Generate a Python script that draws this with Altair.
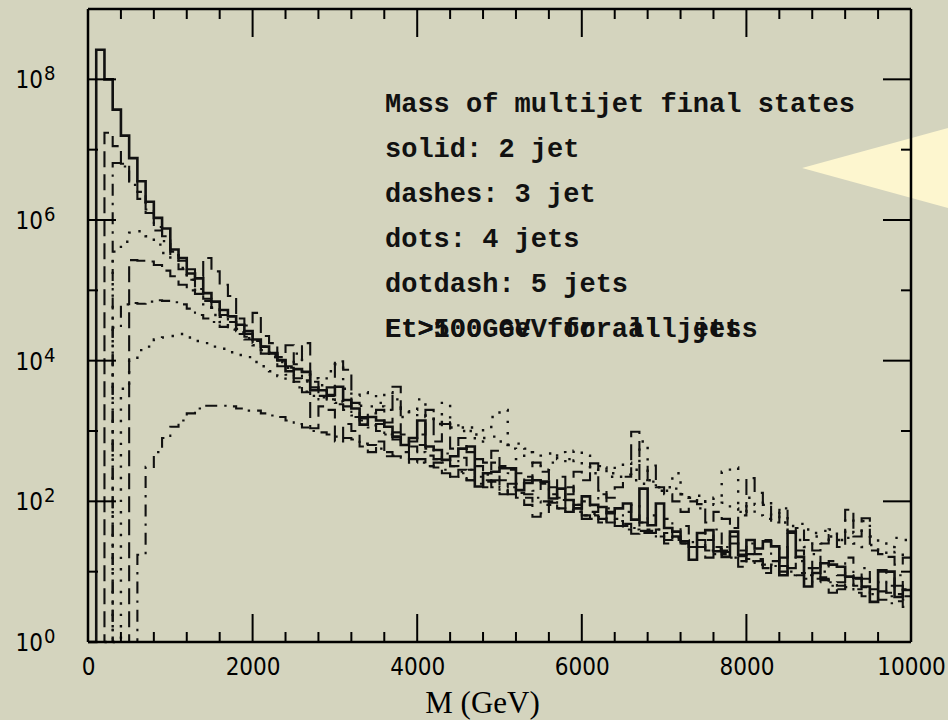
import altair as alt
import pandas as pd

# ---------------- data (log10 of entries per 100 GeV bin) -------------
bin_width = 100
n_bins = 100

log_2jet_solid = [
    0, 8.42, 8.00, 7.57, 7.20,
    6.88, 6.55, 6.26, 6.03, 5.88,
    5.58, 5.46, 5.24, 5.17, 4.96,
    4.84, 4.72, 4.63, 4.51, 4.42,
    4.30, 4.20, 4.11, 4.01, 3.85,
    3.88, 3.84, 3.58, 3.58, 3.51,
    3.63, 3.44, 3.32, 3.09, 3.20,
    3.15, 3.06, 2.92, 2.80, 2.90,
    3.15, 2.78, 2.73, 2.59, 2.64,
    2.75, 2.78, 2.21, 2.40, 2.42,
    2.47, 2.47, 2.16, 2.26, 2.30,
    2.28, 2.04, 2.18, 2.02, 1.90,
    2.07, 1.95, 1.92, 1.83, 1.90,
    1.97, 1.74, 2.18, 1.66, 1.97,
    1.62, 1.57, 1.43, 1.17, 1.55,
    1.59, 1.29, 1.21, 1.57, 1.24,
    1.45, 1.33, 1.43, 1.36, 0.95,
    1.57, 1.21, 0.79, 0.98, 1.12,
    1.10, 1.07, 0.93, 0.91, 0.79,
    0.57, 1.02, 1.00, 0.64, 0.74]

log_3jet_dashes = [
    0, 0, 7.24, 7.05, 6.80,
    6.55, 6.40, 6.15, 5.90, 5.77,
    5.55, 5.42, 5.30, 5.20, 5.46,
    5.27, 5.08, 4.92, 4.60, 4.50,
    4.68, 4.35, 4.25, 4.05, 4.22,
    3.95, 4.25, 3.70, 3.55, 3.62,
    3.99, 3.87, 3.40, 3.20, 3.25,
    3.30, 3.12, 3.63, 2.95, 2.85,
    2.95, 3.30, 2.85, 3.10, 2.75,
    2.90, 2.70, 2.60, 2.55, 2.72,
    2.50, 2.45, 2.40, 2.30, 2.55,
    2.42, 2.20, 2.35, 2.10, 2.42,
    2.30, 2.54, 2.15, 2.05, 2.20,
    2.35, 2.99, 2.30, 2.51, 2.20,
    2.10, 2.00, 1.85, 2.00, 1.96,
    1.70, 1.85, 1.75, 1.62, 1.80,
    2.33, 2.12, 1.95, 1.70, 1.88,
    1.55, 1.62, 1.45, 1.30, 1.40,
    1.52, 1.35, 1.88, 1.50, 1.76,
    1.30, 1.25, 1.21, 1.10, 1.20]

log_5jet_dotdash_a = [
    0, 0, 0, 6.81, 6.76,
    6.50, 6.30, 6.10, 5.85, 5.70,
    5.50, 5.30, 5.15, 5.02, 4.88,
    4.75, 4.62, 4.55, 4.42, 4.30,
    4.25, 4.10, 4.05, 3.92, 3.80,
    3.75, 3.70, 3.62, 3.45, 3.50,
    3.40, 3.35, 3.22, 3.18, 3.05,
    3.10, 2.95, 2.98, 2.85, 2.70,
    2.80, 2.75, 2.60, 2.68, 2.50,
    2.62, 2.45, 2.50, 2.38, 2.55,
    2.30, 2.40, 2.25, 2.35, 2.15,
    2.25, 2.10, 2.05, 2.20, 1.95,
    2.00, 1.85, 2.10, 1.90, 1.75,
    1.85, 1.95, 1.70, 1.80, 1.60,
    1.75, 1.50, 1.65, 1.40, 1.55,
    1.45, 1.60, 1.35, 1.50, 1.30,
    1.40, 1.25, 1.45, 1.15, 1.35,
    1.20, 1.30, 1.05, 1.25, 1.00,
    1.15, 0.95, 1.20, 0.90, 1.05,
    0.85, 1.00, 0.80, 0.95, 0.75]

log_4jet_dots_a = [
    0, 0, 0, 5.55, 5.69,
    5.82, 5.84, 5.77, 5.65, 5.53,
    5.45, 5.32, 5.15, 4.98, 4.80,
    4.65, 4.55, 4.45, 4.40, 4.32,
    4.22, 4.15, 4.05, 3.98, 3.90,
    4.10, 3.80, 3.75, 3.65, 3.85,
    3.95, 3.60, 3.50, 3.55, 3.52,
    3.40, 3.55, 3.45, 3.20, 3.30,
    3.45, 3.20, 3.10, 3.40, 3.05,
    3.05, 3.00, 2.85, 3.03, 3.20,
    3.30, 2.75, 2.60, 2.70, 2.55,
    2.45, 2.55, 2.70, 2.60, 2.72,
    2.65, 2.40, 2.50, 2.35, 2.50,
    2.55, 2.45, 2.85, 2.30, 2.15,
    2.20, 2.40, 2.10, 2.05, 1.90,
    2.00, 2.05, 2.42, 2.48, 1.85,
    2.05, 1.95, 2.00, 1.80, 1.90,
    1.55, 1.45, 1.35, 1.50, 1.40,
    1.60, 1.45, 1.75, 1.55, 1.72,
    1.50, 1.40, 1.35, 1.48, 1.45]

log_3jet_dashes_b = [
    0, 0, 0, 0, 0,
    5.43, 5.42, 5.41, 5.36, 5.28,
    5.20, 5.08, 5.00, 4.95, 4.85,
    4.75, 4.65, 4.55, 4.45, 4.38,
    4.28, 4.20, 4.10, 4.00, 3.92,
    3.70, 3.55, 3.04, 3.35, 3.30,
    2.85, 3.10, 3.00, 2.78, 2.70,
    2.85, 2.64, 2.64, 2.70, 2.55,
    2.60, 2.50, 2.55, 2.40, 2.35,
    2.45, 2.30, 2.35, 2.20, 2.30,
    2.10, 2.20, 2.05, 1.95, 1.78,
    1.83, 2.00, 1.90, 1.85, 1.95,
    1.75, 1.80, 1.70, 1.85, 1.65,
    1.60, 1.54, 1.70, 1.55, 1.60,
    1.40, 1.50, 1.45, 1.35, 1.45,
    1.20, 1.35, 1.30, 1.40, 1.07,
    1.25, 1.15, 0.98, 1.10, 1.20,
    1.05, 1.15, 0.95, 1.05, 0.90,
    0.70, 0.85, 0.95, 0.80, 0.90,
    0.75, 0.85, 0.70, 0.80, 0.65]

log_5jet_dotdash_b = [
    0, 0, 0, 4.47, 4.80,
    4.82, 4.81, 4.84, 4.86, 4.85,
    4.83, 4.80, 4.74, 4.65, 4.60,
    4.55, 4.48, 4.44, 4.38, 4.34,
    4.27, 4.15, 4.08, 4.00, 3.90,
    3.80, 3.72, 3.62, 3.50, 3.45,
    3.38, 3.30, 3.20, 3.15, 3.08,
    3.00, 2.95, 2.88, 2.80, 2.78,
    2.70, 2.65, 2.60, 2.55, 2.50,
    2.42, 2.45, 2.35, 2.30, 2.28,
    2.20, 2.25, 2.12, 2.10, 2.05,
    2.00, 1.95, 2.02, 1.88, 1.85,
    1.80, 1.82, 1.75, 1.70, 1.72,
    1.65, 1.62, 1.58, 1.60, 1.50,
    1.55, 1.45, 1.40, 1.42, 1.35,
    1.30, 1.32, 1.25, 1.20, 1.22,
    1.15, 1.18, 1.10, 1.05, 1.08,
    1.00, 0.95, 0.98, 0.90, 0.92,
    0.85, 0.80, 0.82, 0.75, 0.78,
    0.70, 0.72, 0.65, 0.68, 0.60]

log_4jet_dots_b = [
    0, 0, 0, 0, 3.60,
    4.00, 4.15, 4.20, 4.30, 4.33,
    4.35, 4.38, 4.33, 4.28, 4.25,
    4.20, 4.17, 4.12, 4.08, 4.05,
    3.98, 3.92, 3.85, 3.78, 3.70,
    3.62, 3.56, 3.50, 3.48, 3.45,
    3.42, 3.40, 3.38, 3.36, 3.35,
    3.35, 3.30, 3.32, 3.28, 3.25,
    3.20, 3.22, 3.15, 3.10, 3.12,
    3.00, 3.05, 2.95, 2.90, 2.92,
    2.85, 2.80, 2.82, 2.75, 2.70,
    2.65, 2.68, 2.60, 2.55, 2.58,
    2.50, 2.45, 2.48, 2.40, 2.35,
    2.38, 2.30, 2.25, 2.28, 2.20,
    2.15, 2.18, 2.10, 2.05, 2.08,
    2.00, 1.95, 1.98, 1.90, 1.85,
    1.88, 1.80, 1.75, 1.78, 1.70,
    1.65, 1.68, 1.60, 1.55, 1.58,
    1.50, 1.45, 1.48, 1.40, 1.35,
    1.38, 1.30, 1.25, 1.28, 1.20]

log_5jet_dotdash_c = [
    0, 0, 0, 0, 0,
    0, 1.24, 2.49, 2.70, 2.90,
    3.06, 3.15, 3.25, 3.32, 3.36,
    3.36, 3.36, 3.35, 3.32, 3.29,
    3.29, 3.25, 3.22, 3.20, 3.15,
    3.10, 3.05, 3.00, 2.98, 2.95,
    2.92, 2.90, 2.88, 2.82, 2.80,
    2.75, 2.70, 2.65, 2.62, 2.60,
    2.55, 2.50, 2.48, 2.45, 2.35,
    2.40, 2.30, 2.25, 2.28, 2.20,
    2.15, 2.10, 2.12, 2.05, 2.00,
    1.95, 1.98, 1.90, 1.85, 1.88,
    1.80, 1.75, 1.78, 1.70, 1.65,
    1.68, 1.60, 1.55, 1.58, 1.50,
    1.45, 1.48, 1.40, 1.35, 1.38,
    1.30, 1.25, 1.28, 1.20, 1.15,
    1.18, 1.10, 1.05, 1.08, 1.00,
    0.95, 0.98, 0.90, 0.85, 0.88,
    0.80, 0.75, 0.78, 0.70, 0.65,
    0.68, 0.60, 0.55, 0.58, 0.50]

series = [
    ("S1", log_2jet_solid, "solid"),
    ("S2", log_3jet_dashes, "dashed"),
    ("S3", log_5jet_dotdash_a, "dotdash"),
    ("S4", log_4jet_dots_a, "dotted"),
    ("S5", log_3jet_dashes_b, "dashed"),
    ("S6", log_5jet_dotdash_b, "dotdash"),
    ("S7", log_4jet_dots_b, "dotted"),
    ("S8", log_5jet_dotdash_c, "dotdash"),
]

x_major_ticks = [2000, 4000, 6000, 8000]
x_minor_ticks = [v for v in range(400, 10000, 400) if v % 2000 != 0]
y_major_exps = [2, 4, 6, 8]
y_minor_exps = [1, 3, 5, 7]
y_label_exps = [0, 2, 4, 6, 8]
x_label_values = [0, 2000, 4000, 6000, 8000, 10000]

annotation_lines = [
    "Mass of multijet final states",
    "solid: 2 jet",
    "dashes: 3 jet",
    "dots: 4 jets",
    "dotdash: 5 jets",
]
cut_texts = ["Et>500GeV for all jets", "Et>100 GeV for all jets"]

# decorative pointer (in data units, beyond the right edge)
pointer_m = [8676, 10450]
pointer_top = [5.5e6, 2.04e7]
pointer_bottom = [5.5e6, 1.48e6]

# ---------------- layout / style ----------------
W, H = 823, 633
BG = "#d4d4be"
LABEL_FONT = "DejaVu Sans Condensed, Liberation Sans Narrow, DejaVu Sans"
TEXT_FONT = "Liberation Mono"

xscale = alt.Scale(domain=[0, 10000], nice=False, zero=False)
yscale = alt.Scale(type="log", domain=[1, 1e9], nice=False)
xaxis = alt.Axis(values=x_label_values, format="d", labelFont=LABEL_FONT, labelFontSize=24,
                 labelColor="black", labelPadding=13, labelFlush=False, ticks=False,
                 domain=False, grid=False, title="M (GeV)", titleFont="Liberation Serif",
                 titleFontSize=31, titleFontWeight="normal", titleColor="black",
                 titleX=394, titleY=70, titleBaseline="alphabetic", titleAlign="center")

styles = {
    "solid": dict(strokeWidth=2.6),
    "dashed": dict(strokeWidth=2.1, strokeDash=[16, 7]),
    "dotted": dict(strokeWidth=2.4, strokeDash=[2.4, 9]),
    "dotdash": dict(strokeWidth=2.1, strokeDash=[12, 7, 2.4, 7]),
}

layers = []

tri = pd.DataFrame({"m": pointer_m, "top": pointer_top, "bot": pointer_bottom})
layers.append(
    alt.Chart(tri).mark_area(color="#fdf6cf", opacity=1).encode(
        x=alt.X("m:Q", scale=xscale, axis=xaxis),
        y=alt.Y("top:Q", scale=yscale, axis=None),
        y2="bot:Q",
    )
)

for name, vals, style in series:
    start = next(i for i, v in enumerate(vals) if v > 0)
    first = max(start - 1, 0)
    rows = [{"m": i * bin_width, "logv": vals[i]} for i in range(first, len(vals))]
    rows.append({"m": len(vals) * bin_width, "logv": vals[-1]})
    df = pd.DataFrame(rows)
    layers.append(
        alt.Chart(df).transform_calculate(count="pow(10, datum.logv)")
        .mark_line(interpolate="step-after", color="#111111", strokeCap="butt",
                   strokeJoin="miter", **styles[style])
        .encode(x=alt.X("m:Q", scale=xscale, axis=xaxis),
                y=alt.Y("count:Q", scale=yscale, axis=None))
    )

# ticks (inside, on all four sides)
for vals_, length in [(x_major_ticks, 28), (x_minor_ticks, 10)]:
    d = pd.DataFrame({"m": vals_})
    for y0, y1 in [(H, H - length), (0, length)]:
        layers.append(
            alt.Chart(d).mark_rule(color="black", strokeWidth=2).encode(
                x=alt.X("m:Q", scale=xscale, axis=xaxis),
                y=alt.value(y0), y2=alt.value(y1))
        )
for exps, length in [(y_major_exps, 28), (y_minor_exps, 10)]:
    d = pd.DataFrame({"e": exps})
    for x0, x1 in [(0, length), (W, W - length)]:
        layers.append(
            alt.Chart(d).transform_calculate(v="pow(10, datum.e)")
            .mark_rule(color="black", strokeWidth=2).encode(
                y=alt.Y("v:Q", scale=yscale, axis=None),
                x=alt.value(x0), x2=alt.value(x1))
        )

# frame
one = pd.DataFrame({"a": [0]})
for enc in [dict(x=alt.value(0), x2=alt.value(W), y=alt.value(0)),
            dict(x=alt.value(0), x2=alt.value(W), y=alt.value(H)),
            dict(x=alt.value(0), y=alt.value(0), y2=alt.value(H)),
            dict(x=alt.value(W), y=alt.value(0), y2=alt.value(H))]:
    layers.append(alt.Chart(one).mark_rule(color="black", strokeWidth=2.5).encode(**enc))

# y labels: 10 with superscript exponent
yl = pd.DataFrame({"e": y_label_exps})
layers.append(
    alt.Chart(yl).transform_calculate(v="pow(10, datum.e)")
    .mark_text(text="10", align="right", baseline="middle", font=LABEL_FONT,
               fontSize=24, color="black", dy=2)
    .encode(y=alt.Y("v:Q", scale=yscale, axis=None), x=alt.value(-45))
)
layers.append(
    alt.Chart(yl).transform_calculate(v="pow(10, datum.e)", lab="toString(datum.e)")
    .mark_text(align="left", baseline="alphabetic", font=LABEL_FONT,
               fontSize=20, color="black", dy=1)
    .encode(y=alt.Y("v:Q", scale=yscale, axis=None), x=alt.value(-44), text="lab:N")
)

# annotation
for k, line in enumerate(annotation_lines):
    layers.append(
        alt.Chart(one).mark_text(text=line, align="left", baseline="alphabetic",
                                 font=TEXT_FONT, fontSize=27, fontWeight="bold",
                                 color="#111111")
        .encode(x=alt.value(297), y=alt.value(103 + 45 * k))
    )
for t in cut_texts:
    layers.append(
        alt.Chart(one).mark_text(text=t, align="left", baseline="alphabetic",
                                 font=TEXT_FONT, fontSize=27, fontWeight="bold",
                                 color="#111111")
        .encode(x=alt.value(297), y=alt.value(328))
    )

chart = alt.layer(*layers).properties(
    width=W, height=H,
    padding={"left": 88, "top": 9, "right": 37, "bottom": 78},
    autosize=alt.AutoSizeParams(type="none"),
).configure(background=BG).configure_view(stroke=None)

chart.save("out.html", embed_options={"renderer": "svg", "actions": False})
